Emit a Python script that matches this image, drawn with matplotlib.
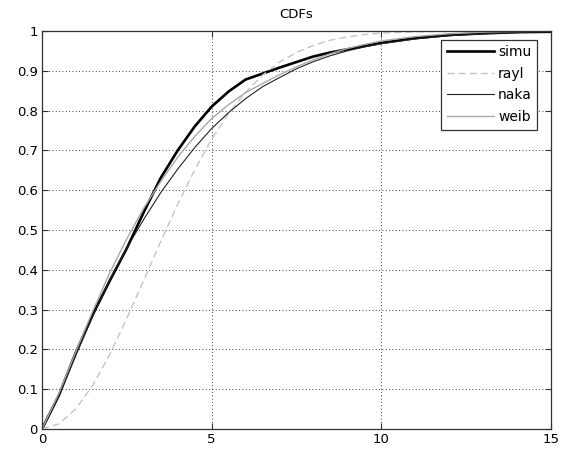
import matplotlib
matplotlib.use("Agg")
import matplotlib.pyplot as plt

# values
x_vals = [0, 0.5, 1, 1.5, 2, 2.5, 3, 3.5, 4, 4.5, 5, 5.5, 6, 6.5, 7, 7.5,
          8, 8.5, 9, 9.5, 10, 11, 12, 13, 14, 15]
simu = [0, 0.085, 0.193, 0.288, 0.373, 0.454, 0.545, 0.631, 0.700, 0.760,
        0.810, 0.848, 0.878, 0.893, 0.908, 0.922, 0.936, 0.946, 0.954, 0.962,
        0.970, 0.982, 0.990, 0.994, 0.997, 0.998]
rayl = [0, 0.013, 0.051, 0.110, 0.188, 0.278, 0.374, 0.471, 0.565, 0.651,
        0.728, 0.793, 0.846, 0.889, 0.922, 0.946, 0.964, 0.977, 0.985, 0.991,
        0.995, 0.998, 0.999, 1.0, 1.0, 1.0]
naka = [0, 0.085, 0.185, 0.285, 0.375, 0.455, 0.527, 0.594, 0.653, 0.707,
        0.755, 0.795, 0.830, 0.860, 0.883, 0.905, 0.923, 0.938, 0.950, 0.960,
        0.968, 0.980, 0.988, 0.993, 0.996, 0.998]
weib = [0, 0.090, 0.195, 0.297, 0.393, 0.478, 0.555, 0.622, 0.683, 0.735,
        0.780, 0.815, 0.845, 0.868, 0.890, 0.910, 0.928, 0.943, 0.956, 0.966,
        0.975, 0.986, 0.993, 0.997, 0.999, 1.0]

x_ticks = [0, 5, 10, 15]
y_ticks = [0, 0.1, 0.2, 0.3, 0.4, 0.5, 0.6, 0.7, 0.8, 0.9, 1]
y_tick_labels = ["0", "0.1", "0.2", "0.3", "0.4", "0.5", "0.6", "0.7", "0.8", "0.9", "1"]

plt.rcParams.update({
    "font.family": ["DejaVu Sans"],
    "font.size": 9.5,
})

fig = plt.figure(figsize=(5.66, 4.51), dpi=100)
ax = fig.add_axes([0.0742, 0.0488, 0.8993, 0.8825])

ax.plot(x_vals, simu, color="black", linewidth=1.9, label="simu")
ax.plot(x_vals, rayl, color="#c4c4c4", linewidth=1.0, linestyle=(0, (5, 3)), label="rayl")
ax.plot(x_vals, naka, color="#222222", linewidth=0.8, label="naka")
ax.plot(x_vals, weib, color="#a8a8a8", linewidth=1.0, label="weib")

ax.set_xlim(0, 15)
ax.set_ylim(0, 1)
ax.set_xticks(x_ticks)
ax.set_xticklabels([str(t) for t in x_ticks])
ax.set_yticks(y_ticks)
ax.set_yticklabels(y_tick_labels)
ax.tick_params(direction="in", top=True, right=True, length=4, width=0.8,
               color="#333333", labelsize=9.5, pad=3)
ax.grid(True, color="black", linestyle=(0, (1, 3)), linewidth=0.6)
for sp in ax.spines.values():
    sp.set_color("#333333")
    sp.set_linewidth(0.9)
ax.set_title("CDFs", fontsize=9.5, pad=9)

leg = ax.legend(loc="upper right", bbox_to_anchor=(0.987, 0.996), fontsize=10,
                handlelength=3.4, handletextpad=0.3, borderpad=0.4,
                labelspacing=0.55, fancybox=False, framealpha=1,
                edgecolor="#333333")
leg.get_frame().set_linewidth(0.9)

fig.savefig("out.png", dpi=100)
